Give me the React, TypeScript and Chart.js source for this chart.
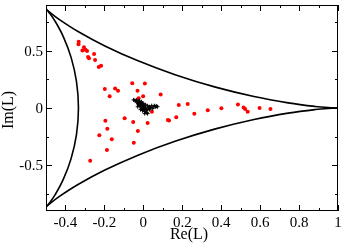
import React, { useEffect, useRef } from "react";
import { Chart, registerables } from "chart.js";

Chart.register(...registerables);

// Deltoid boundary, upper branch (from right cusp to upper-left cusp)
const upperBranch: [number, number][] = [
  [1, 0], [0.9698, 0.0018], [0.8818, 0.0138], [0.744, 0.0447], [0.5686, 0.1003],
  [0.3706, 0.1824], [0.1667, 0.2887], [-0.0273, 0.4122], [-0.1975, 0.5425],
  [-0.3333, 0.6667], [-0.429, 0.7706], [-0.4834, 0.8407], [-0.5, 0.866],
];
// Deltoid boundary, left branch (upper-left cusp to lower-left cusp)
const leftBranch: [number, number][] = [
  [-0.5, 0.866], [-0.4864, 0.839], [-0.4528, 0.7568], [-0.4107, 0.622], [-0.3711, 0.4423],
  [-0.3433, 0.2298], [-0.3333, 0], [-0.3433, -0.2298], [-0.3711, -0.4423],
  [-0.4107, -0.622], [-0.4528, -0.7568], [-0.4864, -0.839], [-0.5, -0.866],
];
// Deltoid boundary, lower branch
const lowerBranch: [number, number][] = [
  [1, 0], [0.9698, -0.0018], [0.8818, -0.0138], [0.744, -0.0447], [0.5686, -0.1003],
  [0.3706, -0.1824], [0.1667, -0.2887], [-0.0273, -0.4122], [-0.1975, -0.5425],
  [-0.3333, -0.6667], [-0.429, -0.7706], [-0.4834, -0.8407], [-0.5, -0.866],
];

// Red eigenvalues
const redPoints: [number, number][] = [
  [-0.332, 0.579], [-0.333, 0.556], [-0.305, 0.531], [-0.313, 0.503], [-0.297, 0.508],
  [-0.289, 0.499], [-0.284, 0.445], [-0.279, 0.434], [-0.253, 0.471], [-0.248, 0.42],
  [-0.229, 0.358], [-0.217, 0.369], [-0.198, 0.167], [-0.173, 0.102], [-0.145, 0.17],
  [-0.13, 0.15], [-0.057, 0.216], [0.008, 0.213], [-0.03, 0.15], [-0.001, 0.102],
  [0.089, 0.118], [-0.024, 0.085], [0.044, -0.032], [-0.195, -0.112], [-0.096, -0.089],
  [-0.052, -0.122], [0.022, -0.131], [0.126, -0.104], [0.132, -0.11], [0.169, -0.08],
  [0.182, 0.026], [-0.185, -0.182], [-0.028, -0.202], [-0.226, -0.238], [-0.162, -0.274],
  [-0.049, -0.304], [-0.187, -0.366], [-0.273, -0.462], [0.228, 0.034], [0.262, -0.05],
  [0.331, -0.019], [0.401, -0.003], [0.486, 0.03], [0.515, 0.004], [0.523, -0.009],
  [0.536, -0.032], [0.597, 0.0], [0.653, -0.009],
];

// Black cluster near the origin
const blackPoints: [number, number][] = [
  [-0.05, 0.071], [-0.039, 0.062], [-0.034, 0.054], [-0.029, 0.045], [-0.024, 0.054],
  [-0.019, 0.037], [-0.014, 0.045], [-0.009, 0.028], [-0.019, 0.02], [-0.014, 0.011],
  [-0.004, 0.02], [0.002, 0.003], [0.007, 0.011], [-0.009, -0.006], [0.002, -0.014],
  [0.012, -0.006], [0.017, -0.023], [0.007, -0.032], [-0.004, -0.023], [0.012, 0.028],
  [0.022, 0.02], [0.032, 0.011], [0.043, 0.02], [0.053, 0.011], [0.063, 0.011],
  [0.073, 0.011], [0.027, 0.003], [0.037, 0.003], [0.048, -0.006], [0.058, 0.02],
  [-0.024, 0.028], [-0.034, 0.071], [-0.009, 0.054], [0.002, 0.037], [0.017, -0.04],
  [0.022, -0.049], [0.007, -0.049], [0.032, -0.014], [-0.029, 0.011], [-0.014, -0.014],
  [-0.044, 0.066], [-0.027, 0.036], [-0.02, 0.062], [-0.004, 0.04], [0.004, 0.024],
  [0.01, 0.0], [-0.002, -0.004], [0.014, -0.038], [0.02, -0.012], [0.068, 0.016],
];

const xMajorTicks = [-0.4, -0.2, 0, 0.2, 0.4, 0.6, 0.8, 1];
const xTickLabels = ["-0.4", "-0.2", "0", "0.2", "0.4", "0.6", "0.8", "1"];
const xMinorTicks = [-0.3, -0.1, 0.1, 0.3, 0.5, 0.7, 0.9];
const yMajorTicks = [-0.5, 0, 0.5];
const yTickLabels = ["-0.5", "0", "0.5"];
const yMinorTicks = [-0.75, -0.25, 0.25, 0.75];

const xTitle = "Re(L)";
const yTitle = "Im(L)";

const FONT = "'Liberation Serif', 'Times New Roman', serif";

const toXY = (arr: [number, number][]) => arr.map(([x, y]) => ({ x, y }));

const framePlugin = {
  id: "graceFrame",
  afterDatasetsDraw(chart: any) {
    const { ctx, chartArea: a, scales } = chart;
    const xs = scales.x;
    const ys = scales.y;
    ctx.save();
    ctx.strokeStyle = "#000";
    ctx.lineWidth = 1;
    ctx.strokeRect(a.left + 0.5, a.top + 0.5, a.right - a.left - 1, a.bottom - a.top - 1);
    ctx.beginPath();
    const xt = (vals: number[], len: number) => {
      for (const v of vals) {
        const p = Math.round(xs.getPixelForValue(v)) + 0.5;
        ctx.moveTo(p, a.bottom);
        ctx.lineTo(p, a.bottom - len);
        ctx.moveTo(p, a.top);
        ctx.lineTo(p, a.top + len);
      }
    };
    const yt = (vals: number[], len: number) => {
      for (const v of vals) {
        const p = Math.round(ys.getPixelForValue(v)) + 0.5;
        ctx.moveTo(a.left, p);
        ctx.lineTo(a.left + len, p);
        ctx.moveTo(a.right, p);
        ctx.lineTo(a.right - len, p);
      }
    };
    xt(xMajorTicks, 6);
    xt(xMinorTicks, 3);
    yt(yMajorTicks, 6);
    yt(yMinorTicks, 3);
    ctx.stroke();

    ctx.fillStyle = "#000";
    ctx.font = `15px ${FONT}`;
    ctx.textBaseline = "alphabetic";
    ctx.textAlign = "center";
    xMajorTicks.forEach((v, i) => {
      ctx.fillText(xTickLabels[i], xs.getPixelForValue(v), a.bottom + 16);
    });
    ctx.textAlign = "right";
    yMajorTicks.forEach((v, i) => {
      ctx.fillText(yTickLabels[i], a.left - 3, ys.getPixelForValue(v) + 5);
    });

    ctx.font = `16px ${FONT}`;
    ctx.textAlign = "center";
    ctx.fillText(xTitle, (a.left + a.right) / 2 - 3, 239);
    ctx.translate(13, 110);
    ctx.rotate(-Math.PI / 2);
    ctx.fillText(yTitle, 0, 0);
    ctx.restore();
  },
};

export default function App() {
  const ref = useRef<HTMLCanvasElement | null>(null);
  useEffect(() => {
    if (!ref.current) return;
    const chart = new Chart(ref.current, {
      type: "scatter",
      data: {
        datasets: [
          { data: toXY(upperBranch), showLine: true, borderColor: "#000", borderWidth: 1.6, pointRadius: 0, tension: 0.4, fill: false },
          { data: toXY(leftBranch), showLine: true, borderColor: "#000", borderWidth: 1.6, pointRadius: 0, tension: 0.4, fill: false },
          { data: toXY(lowerBranch), showLine: true, borderColor: "#000", borderWidth: 1.6, pointRadius: 0, tension: 0.4, fill: false },
          { data: toXY(blackPoints), pointStyle: "cross", pointRadius: 2, borderColor: "#000", borderWidth: 1, backgroundColor: "#000" },
          { data: toXY(redPoints), pointStyle: "circle", pointRadius: 2, borderWidth: 0, backgroundColor: "#ff0000", borderColor: "#ff0000" },
        ],
      },
      options: {
        animation: false,
        responsive: false,
        devicePixelRatio: 1,
        layout: { padding: { left: 0, right: 4, top: 1, bottom: 0 } },
        plugins: { legend: { display: false }, tooltip: { enabled: false } },
        scales: {
          x: {
            type: "linear",
            min: -0.5,
            max: 1,
            grid: { display: false, drawTicks: false },
            border: { display: false },
            ticks: { display: false },
            afterFit: (s: any) => { s.height = 33; s.paddingLeft = 0; s.paddingRight = 0; },
          },
          y: {
            type: "linear",
            min: -0.9,
            max: 0.9,
            grid: { display: false, drawTicks: false },
            border: { display: false },
            ticks: { display: false },
            afterFit: (s: any) => { s.width = 46; s.paddingTop = 0; s.paddingBottom = 0; },
          },
        },
      },
      plugins: [framePlugin],
    });
    return () => chart.destroy();
  }, []);
  return (
    <div style={{ position: "absolute", left: 0, top: 0, width: 343, height: 244, background: "#fff" }}>
      <canvas ref={ref} width={343} height={244} style={{ width: 343, height: 244, display: "block" }} />
    </div>
  );
}
